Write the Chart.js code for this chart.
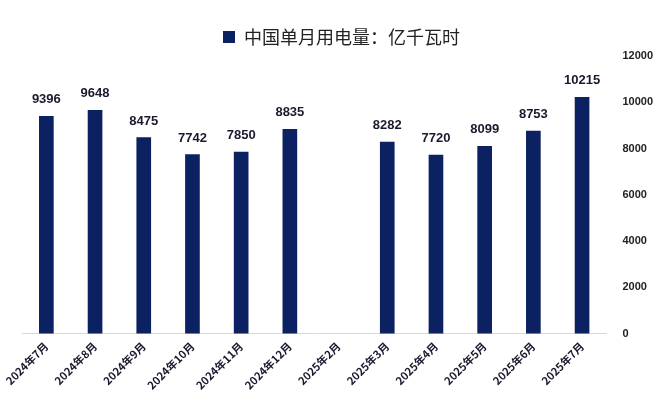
<!DOCTYPE html>
<html><head><meta charset="utf-8">
<script src="https://cdn.jsdelivr.net/npm/chart.js@4"></script>
<style>body{margin:0;background:#fff}#w{width:669px;height:406px}</style>
</head><body><div id="w"><canvas id="c"></canvas></div>
<script>
const categories=["2024年7月","2024年8月","2024年9月","2024年10月","2024年11月","2024年12月","2025年2月","2025年3月","2025年4月","2025年5月","2025年6月","2025年7月"];
const values=[9396,9648,8475,7742,7850,8835,null,8282,7720,8099,8753,10215];
const yTicks=[0,2000,4000,6000,8000,10000,12000];
const labelPlugin={id:'lbl',afterDatasetsDraw(ch){const ctx=ch.ctx;const m=ch.getDatasetMeta(0);ctx.save();ctx.font='bold 13px "Liberation Sans", Arial';ctx.fillStyle='#1a1a2e';ctx.textAlign='center';ctx.textBaseline='bottom';
m.data.forEach((b,i)=>{if(values[i]!=null)ctx.fillText(values[i],b.x,b.y-10);});ctx.restore();}};
new Chart(document.getElementById('c'),{type:'bar',
data:{labels:categories,datasets:[{label:'中国单月用电量：亿千瓦时',data:values,backgroundColor:'#0b2161',barThickness:14}]},
options:{responsive:true,maintainAspectRatio:false,animation:false,
layout:{padding:{left:22,right:8,top:14,bottom:8}},
plugins:{legend:{position:'top',labels:{boxWidth:12,boxHeight:12,color:'#222',font:{size:18,family:'"Noto Sans CJK SC"'},padding:14}},tooltip:{enabled:false}},
scales:{x:{grid:{display:false,drawTicks:false},border:{color:'#d9d9d9'},ticks:{color:'#1a1a2e',font:{size:11,weight:'bold',family:'"Noto Sans CJK SC"'},maxRotation:45,minRotation:45,padding:6}},
y:{position:'right',min:0,max:12000,afterBuildTicks(s){s.ticks=yTicks.map(v=>({value:v}));},grid:{display:false},border:{display:false},ticks:{color:'#222',font:{size:11,weight:'bold',family:'"Liberation Sans"'},padding:8,callback:v=>String(v)}}}},
plugins:[labelPlugin]});
</script></body></html>
